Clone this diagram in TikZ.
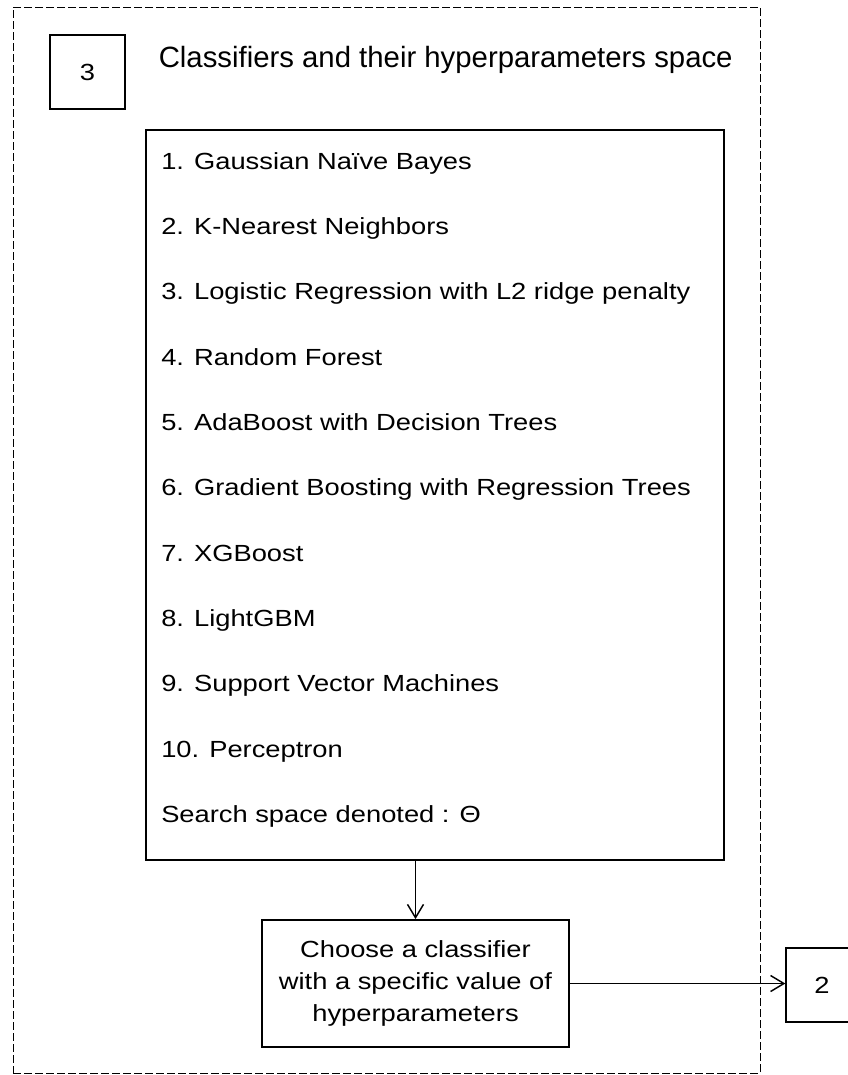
\documentclass[tikz,border=0pt]{standalone}
\usepackage{fontspec}
\setmainfont{Liberation Sans}
\newfontfamily\listfont[FakeStretch=1.17]{Liberation Sans}
\usetikzlibrary{arrows.meta,positioning}

\begin{document}
\begin{tikzpicture}[x=0.75pt,y=-0.75pt,
    box/.style={draw,rectangle,inner sep=0pt,line width=1pt,align=center,
                font=\fontsize{17.5}{24}\listfont},
    item/.style={inner sep=0pt,anchor=base west,font=\fontsize{17.5}{21}\listfont},
    arrow/.style={line width=1.1pt,-{Straight Barb[length=10pt,width=12pt]}}]
    \useasboundingbox (0,0) rectangle (848,1075);

    % Frame
    \node[draw,rectangle,dash pattern=on 6pt off 2.25pt,line width=0.75pt,
          minimum width=560.25pt,minimum height=799.5pt] (frame) at (386.5,540) {};

    % Nodes
    \node[box,minimum width=56.25pt,minimum height=55.5pt] (B3) at (87.5,72) {3};
    \node[inner sep=0pt,anchor=base west,font=\fontsize{22}{26}\selectfont] (title) at (158.5,67.3)
        {Classifiers and their hyperparameters space};
    \node[box,line width=1.5pt,minimum width=433.5pt,minimum height=547.5pt] (list) at (435,495) {};

    \node[item] (c1) at (161,169.3) {1. Gaussian Naïve Bayes};
    \node[item] (c2) at (161,234.6) {2. K-Nearest Neighbors};
    \node[item] (c3) at (161,299.9) {3. Logistic Regression with L2 ridge penalty};
    \node[item] (c4) at (161,365.2) {4. Random Forest};
    \node[item] (c5) at (161,430.5) {5. AdaBoost with Decision Trees};
    \node[item] (c6) at (161,495.8) {6. Gradient Boosting with Regression Trees};
    \node[item] (c7) at (161,561.1) {7. XGBoost};
    \node[item] (c8) at (161,626.4) {8. LightGBM};
    \node[item] (c9) at (161,691.7) {9. Support Vector Machines};
    \node[item] (c10) at (161,757.0) {10. Perceptron};
    \node[item] (space) at (161,822.3) {Search space denoted : Θ};

    \node[box,line width=1.3pt,minimum width=230.25pt,minimum height=95.25pt] (choose) at (415.5,983.5)
        {Choose a classifier\\with a specific value of\\hyperparameters};
    \node[box,minimum width=54pt,minimum height=55.5pt] (B2) at (822,985) {2};

    % Arrows
    \draw[arrow] (choose.north |- list.south) -- (choose.north);
    \draw[arrow] (choose.east) -- (choose.east -| B2.west);
\end{tikzpicture}
\end{document}
